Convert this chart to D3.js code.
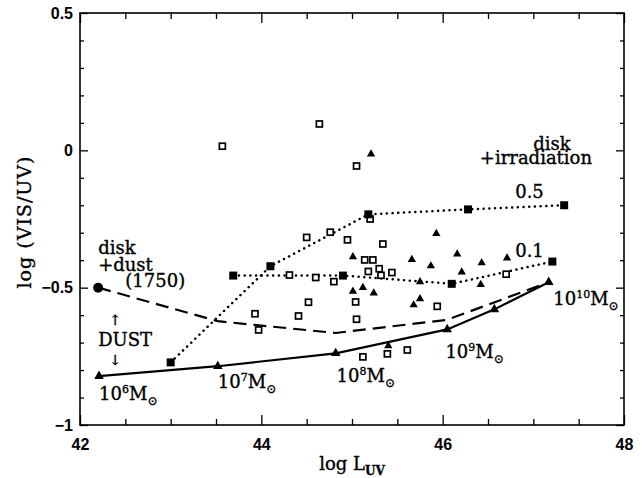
<!doctype html>
<html>
<head>
<meta charset="utf-8">
<title>log (VIS/UV) vs log L_UV</title>
<script src="https://d3js.org/d3.v7.min.js"></script>
<style>
  body { margin: 0; background: #fff; }
  .tick text { font: bold 16px "Liberation Sans", Arial, sans-serif; fill: #000; }
  .ann { font: 18px "DejaVu Serif", serif; fill: #000; stroke: #000; stroke-width: 0.35px; }
</style>
</head>
<body>
<script>

// bare accretion disk sequence (solid line + triangles), 10^6 .. 10^10 Msun
var diskL = [42.21, 43.52, 44.82, 46.05, 46.57, 47.17];
var diskR = [-0.822, -0.786, -0.739, -0.652, -0.579, -0.480];

// disk + dust (1750 K) sequence, dashed
var dustL = [42.2, 43.52, 44.82, 46.05, 47.17];
var dustR = [-0.5, -0.622, -0.665, -0.617, -0.48];

// disk + irradiation, efficiency 0.5 (dotted, filled squares)
var irr5L = [43.0, 44.1, 45.18, 46.28, 47.34];
var irr5R = [-0.772, -0.422, -0.233, -0.215, -0.20];

// disk + irradiation, efficiency 0.1
var irr1L = [43.69, 44.9, 46.1, 47.21];
var irr1R = [-0.456, -0.456, -0.486, -0.405];

// observed objects, open squares
var sqL = [43.57, 44.64, 45.05, 44.50, 44.76, 44.95, 45.20, 45.34, 45.14, 45.23, 45.18, 45.30, 45.32, 45.44,
           44.31, 44.60, 44.80, 46.70, 44.52, 45.04, 43.93, 44.41, 45.05, 43.97, 45.12, 45.39, 45.61, 45.94];
var sqR = [0.015, 0.096, -0.057, -0.317, -0.298, -0.326, -0.25, -0.341, -0.399, -0.399, -0.441, -0.431, -0.455, -0.445,
           -0.454, -0.463, -0.478, -0.451, -0.553, -0.552, -0.595, -0.603, -0.615, -0.654, -0.752, -0.741, -0.727, -0.568];

// observed objects, filled triangles
var triL = [45.21, 45.93, 45.01, 45.66, 45.87, 46.16, 46.21, 46.43, 46.71, 45.75, 46.42, 45.01, 45.12, 45.24, 45.75, 45.68, 45.40];
var triR = [-0.014, -0.303, -0.388, -0.398, -0.421, -0.378, -0.443, -0.410, -0.392, -0.479, -0.489, -0.513, -0.500, -0.520, -0.541, -0.563, -0.712];

// ticks
var xMajor = [42, 44, 46, 48];
var xMinor = [42.5, 43, 43.5, 44.5, 45, 45.5, 46.5, 47, 47.5];
var yMajor = [0.5, 0, -0.5, -1];
var yMinor = [0.4, 0.3, 0.2, 0.1, -0.1, -0.2, -0.3, -0.4, -0.6, -0.7, -0.8, -0.9];

// mass labels
var massExp = ['6', '7', '8', '9', '10'];
var massL = [42.21, 43.52, 44.83, 46.03, 47.22];
var massR = [-0.909, -0.865, -0.843, -0.756, -0.563];

var width = 642, height = 478;
var plotLeft = 80, plotRight = 624, plotTop = 13, plotBottom = 425;

var svg = d3.select('body').append('svg')
            .attr('width', width)
            .attr('height', height);

var x = d3.scaleLinear().domain([42, 48]).range([plotLeft, plotRight]);
var y = d3.scaleLinear().domain([-1, 0.5]).range([plotBottom, plotTop]);

function pts(a, b) { return a.map(function(v, i) { return [v, b[i]]; }); }
function fmt(d) { return d < 0 ? '\u2212' + Math.abs(d) : String(d); }

var line = d3.line()
             .x(function(d) { return x(d[0]); })
             .y(function(d) { return y(d[1]); });

// axes: minor + major ticks on all four sides, pointing inwards
function addAxis(axis, tx, ty) {
  var g = svg.append('g').attr('transform', 'translate(' + tx + ',' + ty + ')').call(axis);
  g.select('.domain').remove();
  g.selectAll('line').attr('stroke', '#000').attr('stroke-width', 1.3);
  return g;
}
addAxis(d3.axisBottom(x).tickValues(xMinor).tickSize(-6).tickFormat(''), 0, plotBottom);
addAxis(d3.axisBottom(x).tickValues(xMajor).tickSize(-10).tickPadding(14).tickFormat(d3.format('d')), 0, plotBottom);
addAxis(d3.axisTop(x).tickValues(xMinor).tickSize(-6).tickFormat(''), 0, plotTop);
addAxis(d3.axisTop(x).tickValues(xMajor).tickSize(-10).tickFormat(''), 0, plotTop);
addAxis(d3.axisLeft(y).tickValues(yMinor).tickSize(-4).tickFormat(''), plotLeft, 0);
addAxis(d3.axisLeft(y).tickValues(yMajor).tickSize(-8).tickPadding(7).tickFormat(fmt), plotLeft, 0);
addAxis(d3.axisRight(y).tickValues(yMinor).tickSize(-4).tickFormat(''), plotRight, 0);
addAxis(d3.axisRight(y).tickValues(yMajor).tickSize(-8).tickFormat(''), plotRight, 0);

// model lines
svg.append('path').datum(pts(diskL, diskR)).attr('d', line)
   .attr('fill', 'none').attr('stroke', '#000').attr('stroke-width', 2.2);
svg.append('path').datum(pts(dustL, dustR)).attr('d', line)
   .attr('fill', 'none').attr('stroke', '#000').attr('stroke-width', 2.2)
   .attr('stroke-dasharray', '13,7');
[pts(irr5L, irr5R), pts(irr1L, irr1R)].forEach(function(p) {
  svg.append('path').datum(p).attr('d', line)
     .attr('fill', 'none').attr('stroke', '#000').attr('stroke-width', 2.5)
     .attr('stroke-linecap', 'round').attr('stroke-dasharray', '0.1,5.6');
});

var tri = d3.symbol().type(d3.symbolTriangle).size(30);
var bigSq = d3.symbol().type(d3.symbolSquare).size(64);

// observed points
svg.append('g').selectAll('rect').data(pts(sqL, sqR)).enter().append('rect')
   .attr('x', function(d) { return x(d[0]) - 3; })
   .attr('y', function(d) { return y(d[1]) - 3; })
   .attr('width', 6).attr('height', 6)
   .attr('fill', '#fff').attr('stroke', '#000').attr('stroke-width', 1.7);
svg.append('g').selectAll('path').data(pts(triL, triR)).enter().append('path')
   .attr('d', tri)
   .attr('transform', function(d) { return 'translate(' + x(d[0]) + ',' + y(d[1]) + ')'; })
   .attr('fill', '#000');

// model markers
svg.append('g').selectAll('path').data(pts(diskL, diskR)).enter().append('path')
   .attr('d', d3.symbol().type(d3.symbolTriangle).size(40))
   .attr('transform', function(d) { return 'translate(' + x(d[0]) + ',' + y(d[1]) + ')'; })
   .attr('fill', '#000');
svg.append('g').selectAll('path').data(pts(irr5L, irr5R).concat(pts(irr1L, irr1R))).enter().append('path')
   .attr('d', bigSq)
   .attr('transform', function(d) { return 'translate(' + x(d[0]) + ',' + y(d[1]) + ')'; })
   .attr('fill', '#000');
svg.append('circle').attr('cx', x(dustL[0])).attr('cy', y(dustR[0])).attr('r', 5).attr('fill', '#000');

// annotations
function ann(txt, lx, ly, anchor) {
  return svg.append('text').attr('class', 'ann')
            .attr('x', x(lx)).attr('y', y(ly))
            .attr('text-anchor', anchor || 'start').text(txt);
}
ann('disk', 42.2, -0.377);
ann('+dust', 42.2, -0.44);
ann('(1750)', 42.5, -0.499);
ann('\u2191', 42.39, -0.635, 'middle').style('font-size', '14px');
ann('DUST', 42.2, -0.713);
ann('\u2193', 42.39, -0.78, 'middle').style('font-size', '14px');
ann('disk', 47.0, 0.001);
ann('+irradiation', 46.41, -0.05);
ann('0.5', 46.8, -0.174);
ann('0.1', 46.8, -0.389);

massExp.forEach(function(e, i) {
  var t = svg.append('text').attr('class', 'ann')
             .attr('x', x(massL[i])).attr('y', y(massR[i]));
  t.append('tspan').text('10');
  t.append('tspan').attr('dy', -7).style('font-size', '11px').text(e);
  t.append('tspan').attr('dy', 7).text('M');
  t.append('tspan').attr('dy', 5).style('font-size', '12px').text('\u2299');
});

// axis titles
var xt = svg.append('text').attr('class', 'ann')
            .attr('x', (plotLeft + plotRight) / 2).attr('y', 470)
            .attr('text-anchor', 'middle');
xt.append('tspan').text('log L');
xt.append('tspan').attr('dy', 5).style('font-size', '12px').style('font-weight', 'bold').text('UV');

svg.append('text').attr('class', 'ann')
   .attr('transform', 'translate(31,' + 222 + ') rotate(-90)')
   .attr('text-anchor', 'middle')
   .style('font-size', '19px')
   .style('letter-spacing', '1px')
   .text('log (VIS/UV)');

// frame
svg.append('rect').attr('x', plotLeft).attr('y', plotTop)
   .attr('width', plotRight - plotLeft).attr('height', plotBottom - plotTop)
   .attr('fill', 'none').attr('stroke', '#000').attr('stroke-width', 1.6);

</script>
</body>
</html>
